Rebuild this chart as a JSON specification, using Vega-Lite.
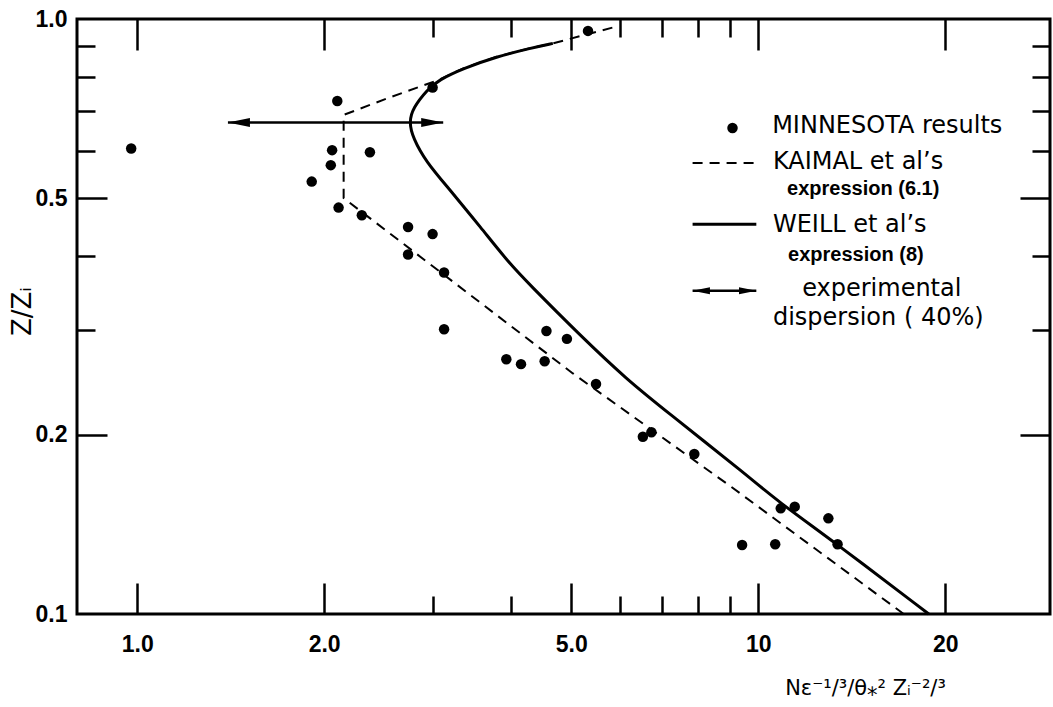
{
  "$schema": "https://vega.github.io/schema/vega-lite/v6.json",
  "width": 973,
  "height": 595,
  "autosize": {"type": "none"},
  "padding": {"left": 77, "top": 19, "right": 3, "bottom": 93},
  "background": "white",
  "config": {
    "view": {"stroke": "black", "strokeWidth": 3},
    "axis": {
      "grid": false,
      "domain": false,
      "tickColor": "black",
      "tickWidth": 2.5,
      "labelColor": "black",
      "labelFont": "Liberation Sans",
      "labelFontSize": 23,
      "labelFontWeight": "bold",
      "titleColor": "black",
      "titleFontWeight": "normal",
      "labelFlush": false,
      "labelOverlap": false
    }
  },
  "datasets": {
    "minnesota": [
      {"x": 5.32, "y": 0.955}, {"x": 2.99, "y": 0.767}, {"x": 2.10, "y": 0.728},
      {"x": 0.978, "y": 0.606}, {"x": 2.06, "y": 0.602}, {"x": 2.37, "y": 0.597},
      {"x": 2.05, "y": 0.568}, {"x": 1.91, "y": 0.533}, {"x": 2.11, "y": 0.482},
      {"x": 2.30, "y": 0.468}, {"x": 2.73, "y": 0.447}, {"x": 2.99, "y": 0.435},
      {"x": 2.73, "y": 0.402}, {"x": 3.12, "y": 0.375}, {"x": 3.12, "y": 0.301},
      {"x": 4.56, "y": 0.299}, {"x": 4.92, "y": 0.290}, {"x": 3.93, "y": 0.268},
      {"x": 4.15, "y": 0.263}, {"x": 4.53, "y": 0.266}, {"x": 5.48, "y": 0.2435},
      {"x": 6.52, "y": 0.1986}, {"x": 6.73, "y": 0.202}, {"x": 7.89, "y": 0.1857},
      {"x": 10.87, "y": 0.1505}, {"x": 11.45, "y": 0.1515}, {"x": 12.97, "y": 0.1448},
      {"x": 9.42, "y": 0.1306}, {"x": 10.65, "y": 0.131}, {"x": 13.42, "y": 0.131}
    ],
    "kaimal": [
      {"x": 17.15, "y": 0.1}, {"x": 9.04, "y": 0.1637}, {"x": 5.03, "y": 0.2537},
      {"x": 2.15, "y": 0.5}, {"x": 2.15, "y": 0.69}, {"x": 2.54, "y": 0.737},
      {"x": 3.06, "y": 0.79}, {"x": 3.35, "y": 0.826}, {"x": 3.79, "y": 0.864},
      {"x": 4.29, "y": 0.893}, {"x": 4.67, "y": 0.91}, {"x": 5.95, "y": 0.973}
    ],
    "weill": [
      {"x": 18.82, "y": 0.1}, {"x": 13.39, "y": 0.1311}, {"x": 10.69, "y": 0.1554},
      {"x": 9.67, "y": 0.1699}, {"x": 7.07, "y": 0.2203}, {"x": 6.16, "y": 0.2473},
      {"x": 5.16, "y": 0.2944}, {"x": 4.26, "y": 0.36}, {"x": 3.97, "y": 0.3889},
      {"x": 3.58, "y": 0.4455}, {"x": 3.17, "y": 0.52}, {"x": 2.92, "y": 0.575},
      {"x": 2.78, "y": 0.631}, {"x": 2.74, "y": 0.671}, {"x": 2.78, "y": 0.7086},
      {"x": 2.93, "y": 0.760}, {"x": 3.06, "y": 0.790}, {"x": 3.35, "y": 0.826},
      {"x": 3.79, "y": 0.864}, {"x": 4.29, "y": 0.893}, {"x": 4.67, "y": 0.910}
    ],
    "arrow": [{"x": 1.40, "x2": 3.11, "y": 0.670}],
    "arrowheads": [
      {"x": 1.40, "y": 0.670, "dir": "left"},
      {"x": 3.11, "y": 0.670, "dir": "right"}
    ],
    "legendPoint": [{"x": 9.09, "y": 0.656}],
    "legendDash": [{"x": 7.84, "x2": 9.93, "y": 0.573}],
    "legendSolid": [{"x": 7.84, "x2": 9.93, "y": 0.452}],
    "legendArrow": [{"x": 7.84, "x2": 9.93, "y": 0.3494}],
    "legendArrowheads": [
      {"x": 7.84, "y": 0.3494, "dir": "left"},
      {"x": 9.93, "y": 0.3494, "dir": "right"}
    ],
    "legendBig": [
      {"label": "MINNESOTA results", "x": 10.53, "y": 0.661},
      {"label": "KAIMAL et al’s", "x": 10.56, "y": 0.575},
      {"label": "WEILL  et  al’s", "x": 10.56, "y": 0.450},
      {"label": "experimental", "x": 11.77, "y": 0.352},
      {"label": "dispersion ( 40%)", "x": 10.56, "y": 0.3145}
    ],
    "legendSmall": [
      {"label": "expression (6.1)", "x": 11.13, "y": 0.518},
      {"label": "expression (8)", "x": 11.17, "y": 0.401}
    ]
  },
  "resolve": {"axis": {"x": "independent", "y": "independent"}},
  "layer": [
    {
      "data": {"name": "minnesota"},
      "mark": {"type": "point", "filled": true, "shape": "circle", "size": 110, "color": "black", "opacity": 1},
      "encoding": {
        "x": {"field": "x", "type": "quantitative",
          "scale": {"type": "log", "domain": [0.8, 29.5], "nice": false},
          "axis": {"orient": "bottom", "values": [1, 2, 5, 10, 20], "ticks": false, "labelPadding": 19,
            "labelExpr": "datum.value >= 10 ? format(datum.value, 'd') : format(datum.value, '.1f')",
            "title": "Nε⁻¹/³/θ⁎² Zᵢ⁻²/³", "titleFont": "DejaVu Sans", "titleFontSize": 21,
            "titleX": 788, "titleY": 74, "titleAlign": "center", "titleBaseline": "middle"}},
        "y": {"field": "y", "type": "quantitative",
          "scale": {"type": "log", "domain": [0.1, 1.0], "nice": false},
          "axis": {"orient": "left", "values": [0.1, 0.2, 0.5, 1], "ticks": false, "labelPadding": 10,
            "labelBaseline": "middle",
            "labelExpr": "format(datum.value, '.1f')",
            "title": "Z/Zᵢ", "titleFont": "DejaVu Sans", "titleFontSize": 26,
            "titleX": -55, "titleY": 292, "titleAngle": -90, "titleAlign": "center", "titleBaseline": "middle"}}
      }
    },
    {
      "data": {"name": "kaimal"},
      "mark": {"type": "line", "color": "black", "strokeWidth": 2, "strokeDash": [10, 7]},
      "encoding": {
        "x": {"field": "x", "type": "quantitative",
          "scale": {"type": "log", "domain": [0.8, 29.5], "nice": false},
          "axis": {"orient": "bottom", "values": [1, 2, 5, 10, 20], "labels": false, "tickSize": -31, "title": null}},
        "y": {"field": "y", "type": "quantitative",
          "scale": {"type": "log", "domain": [0.1, 1.0], "nice": false},
          "axis": {"orient": "left", "values": [0.2, 0.5], "labels": false, "tickSize": -30, "title": null}},
        "order": {"field": "y", "type": "quantitative"}
      }
    },
    {
      "data": {"name": "weill"},
      "mark": {"type": "line", "color": "black", "strokeWidth": 3, "interpolate": "basis"},
      "encoding": {
        "x": {"field": "x", "type": "quantitative",
          "scale": {"type": "log", "domain": [0.8, 29.5], "nice": false},
          "axis": {"orient": "bottom", "values": [3, 4, 6, 7, 8, 9], "labels": false, "tickSize": -18, "title": null}},
        "y": {"field": "y", "type": "quantitative",
          "scale": {"type": "log", "domain": [0.1, 1.0], "nice": false},
          "axis": {"orient": "left", "values": [0.3, 0.4, 0.6, 0.7, 0.8, 0.9], "labels": false, "tickSize": -18, "title": null}},
        "order": {"field": "y", "type": "quantitative"}
      }
    },
    {
      "data": {"name": "arrow"},
      "mark": {"type": "rule", "color": "black", "strokeWidth": 2.5},
      "encoding": {
        "x": {"field": "x", "type": "quantitative",
          "scale": {"type": "log", "domain": [0.8, 29.5], "nice": false},
          "axis": {"orient": "top", "values": [1, 2, 5, 10, 20], "labels": false, "tickSize": -31, "title": null}},
        "x2": {"field": "x2"},
        "y": {"field": "y", "type": "quantitative",
          "scale": {"type": "log", "domain": [0.1, 1.0], "nice": false},
          "axis": {"orient": "right", "values": [0.2, 0.5], "labels": false, "tickSize": -30, "title": null}}
      }
    },
    {
      "data": {"name": "arrowheads"},
      "mark": {"type": "point", "filled": true, "size": 484, "color": "black", "opacity": 1},
      "encoding": {
        "x": {"field": "x", "type": "quantitative",
          "scale": {"type": "log", "domain": [0.8, 29.5], "nice": false},
          "axis": {"orient": "top", "values": [3, 4, 6, 7, 8, 9], "labels": false, "tickSize": -18, "title": null}},
        "y": {"field": "y", "type": "quantitative",
          "scale": {"type": "log", "domain": [0.1, 1.0], "nice": false},
          "axis": {"orient": "right", "values": [0.3, 0.4, 0.6, 0.7, 0.8, 0.9], "labels": false, "tickSize": -18, "title": null}},
        "shape": {"field": "dir", "type": "nominal",
          "scale": {"domain": ["left", "right"], "range": ["M0,0L2,-0.4L2,0.4Z", "M0,0L-2,-0.4L-2,0.4Z"]},
          "legend": null}
      }
    },
    {
      "data": {"name": "legendPoint"},
      "mark": {"type": "point", "filled": true, "shape": "circle", "size": 110, "color": "black", "opacity": 1},
      "encoding": {
        "x": {"field": "x", "type": "quantitative", "scale": {"type": "log", "domain": [0.8, 29.5], "nice": false}, "axis": null},
        "y": {"field": "y", "type": "quantitative", "scale": {"type": "log", "domain": [0.1, 1.0], "nice": false}, "axis": null}
      }
    },
    {
      "data": {"name": "legendDash"},
      "mark": {"type": "rule", "color": "black", "strokeWidth": 2, "strokeDash": [10, 7]},
      "encoding": {
        "x": {"field": "x", "type": "quantitative", "scale": {"type": "log", "domain": [0.8, 29.5], "nice": false}, "axis": null},
        "x2": {"field": "x2"},
        "y": {"field": "y", "type": "quantitative", "scale": {"type": "log", "domain": [0.1, 1.0], "nice": false}, "axis": null}
      }
    },
    {
      "data": {"name": "legendSolid"},
      "mark": {"type": "rule", "color": "black", "strokeWidth": 3},
      "encoding": {
        "x": {"field": "x", "type": "quantitative", "scale": {"type": "log", "domain": [0.8, 29.5], "nice": false}, "axis": null},
        "x2": {"field": "x2"},
        "y": {"field": "y", "type": "quantitative", "scale": {"type": "log", "domain": [0.1, 1.0], "nice": false}, "axis": null}
      }
    },
    {
      "data": {"name": "legendArrow"},
      "mark": {"type": "rule", "color": "black", "strokeWidth": 2.5},
      "encoding": {
        "x": {"field": "x", "type": "quantitative", "scale": {"type": "log", "domain": [0.8, 29.5], "nice": false}, "axis": null},
        "x2": {"field": "x2"},
        "y": {"field": "y", "type": "quantitative", "scale": {"type": "log", "domain": [0.1, 1.0], "nice": false}, "axis": null}
      }
    },
    {
      "data": {"name": "legendArrowheads"},
      "mark": {"type": "point", "filled": true, "size": 300, "color": "black", "opacity": 1},
      "encoding": {
        "x": {"field": "x", "type": "quantitative", "scale": {"type": "log", "domain": [0.8, 29.5], "nice": false}, "axis": null},
        "y": {"field": "y", "type": "quantitative", "scale": {"type": "log", "domain": [0.1, 1.0], "nice": false}, "axis": null},
        "shape": {"field": "dir", "type": "nominal",
          "scale": {"domain": ["left", "right"], "range": ["M0,0L2,-0.45L2,0.45Z", "M0,0L-2,-0.45L-2,0.45Z"]},
          "legend": null}
      }
    },
    {
      "data": {"name": "legendBig"},
      "mark": {"type": "text", "align": "left", "baseline": "middle", "font": "DejaVu Sans", "fontSize": 24, "color": "black"},
      "encoding": {
        "x": {"field": "x", "type": "quantitative", "scale": {"type": "log", "domain": [0.8, 29.5], "nice": false}, "axis": null},
        "y": {"field": "y", "type": "quantitative", "scale": {"type": "log", "domain": [0.1, 1.0], "nice": false}, "axis": null},
        "text": {"field": "label", "type": "nominal"}
      }
    },
    {
      "data": {"name": "legendSmall"},
      "mark": {"type": "text", "align": "left", "baseline": "middle", "font": "Liberation Sans", "fontWeight": "bold", "fontSize": 20, "color": "black"},
      "encoding": {
        "x": {"field": "x", "type": "quantitative", "scale": {"type": "log", "domain": [0.8, 29.5], "nice": false}, "axis": null},
        "y": {"field": "y", "type": "quantitative", "scale": {"type": "log", "domain": [0.1, 1.0], "nice": false}, "axis": null},
        "text": {"field": "label", "type": "nominal"}
      }
    }
  ]
}
